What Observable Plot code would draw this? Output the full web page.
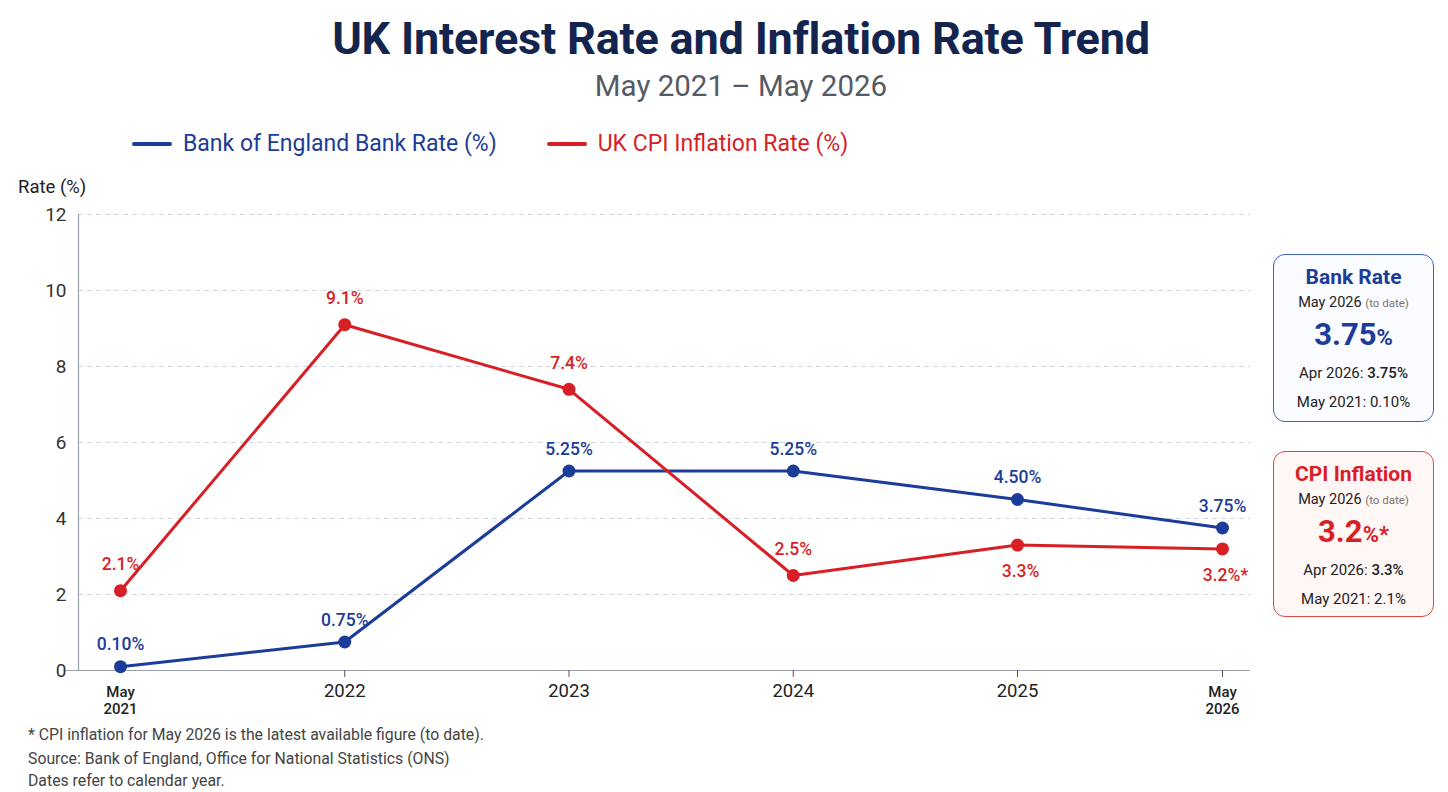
<!DOCTYPE html>
<html>
<head>
<meta charset="utf-8">
<script src="https://cdn.jsdelivr.net/npm/d3@7"></script>
<script src="https://cdn.jsdelivr.net/npm/@observablehq/plot@0.6"></script>
<style>
  html, body { margin: 0; padding: 0; background: #fff; }
  body { width: 1448px; height: 792px; position: relative; overflow: hidden; font-family: Roboto, "Liberation Sans", sans-serif; }
  .title { position: absolute; left: 0; width: 1482px; top: 12px; text-align: center; font-size: 45px; font-weight: 700; color: #13254f; letter-spacing: -0.2px; }
  .subtitle { position: absolute; left: 0; width: 1482px; top: 69px; text-align: center; font-size: 29.5px; color: #555b66; }
  .legend { position: absolute; top: 130px; left: 132px; display: flex; align-items: center; font-size: 23px; }
  .legend .sw { display: inline-block; width: 40px; height: 4px; border-radius: 2px; margin-right: 11px; }
  .legend .item { display: flex; align-items: center; margin-right: 50px; }
  .ylab { position: absolute; left: 18px; top: 176px; font-size: 18.5px; color: #222; }
  #chart { position: absolute; left: 0; top: 160px; }
  .box { position: absolute; left: 1273px; width: 161px; border-radius: 12px; text-align: center; box-sizing: border-box; }
  .box .h { font-size: 21px; font-weight: 700; margin-top: 9px; line-height: 26px; }
  .box .d { font-size: 14.5px; color: #222; margin-top: 3px; line-height: 20px; }
  .box .d small { font-size: 11.5px; color: #777; }
  .box .big { font-size: 31px; font-weight: 700; margin-top: 2px; line-height: 40px; }
  .box .big span { font-size: 22px; }
  .box .s { font-size: 15px; color: #222; margin-top: 4px; line-height: 22px; }
  .box .s2 { font-size: 15px; color: #222; margin-top: 7px; line-height: 22px; }
  .foot { position: absolute; left: 28px; font-size: 15.8px; color: #444; }
</style>
</head>
<body>
<div class="title">UK Interest Rate and Inflation Rate Trend</div>
<div class="subtitle">May 2021 – May 2026</div>
<div class="legend" id="legend"></div>
<div class="ylab">Rate (%)</div>
<div id="chart"></div>
<div class="box" id="bankBox" style="top:254px; height:168px; border:1.5px solid #3f63c0; background:#fbfcff;"></div>
<div class="box" id="cpiBox" style="top:451px; height:166px; border:1.5px solid #e04848; background:#fff6f6;"></div>
<div class="foot" style="top:725px;">* CPI inflation for May 2026 is the latest available figure (to date).</div>
<div class="foot" style="top:749px;">Source: Bank of England, Office for National Statistics (ONS)</div>
<div class="foot" style="top:771px;">Dates refer to calendar year.</div>
<script>
// ---- Data ----
const years = [2021, 2022, 2023, 2024, 2025, 2026];
const periodLabels = ["May\n2021", "2022", "2023", "2024", "2025", "May\n2026"];
const bankRate = [0.10, 0.75, 5.25, 5.25, 4.50, 3.75];
const cpiRate = [2.1, 9.1, 7.4, 2.5, 3.3, 3.2];
const bankLabels = ["0.10%", "0.75%", "5.25%", "5.25%", "4.50%", "3.75%"];
const cpiLabels = ["2.1%", "9.1%", "7.4%", "2.5%", "3.3%", "3.2%*"];
const cpiLabelBelow = [false, false, false, false, true, true];
const yTicks = [0, 2, 4, 6, 8, 10, 12];
const seriesNames = ["Bank of England Bank Rate (%)", "UK CPI Inflation Rate (%)"];
const colors = ["#1c3c99", "#d81f26"];

const bankBox = { title: "Bank Rate", date: "May 2026", value: "3.75", suffix: "%", prev: ["Apr 2026: ", "3.75%"], start: ["May 2021: ", "0.10%"] };
const cpiBox = { title: "CPI Inflation", date: "May 2026", value: "3.2", suffix: "%*", prev: ["Apr 2026: ", "3.3%"], start: ["May 2021: ", "2.1%"] };

const bank = years.map((x, i) => ({ x, y: bankRate[i], label: bankLabels[i] }));
const cpi = years.map((x, i) => ({ x, y: cpiRate[i], label: cpiLabels[i], below: cpiLabelBelow[i] }));

// ---- Legend ----
const legend = document.getElementById("legend");
seriesNames.forEach((n, i) => {
  const it = document.createElement("div");
  it.className = "item";
  it.innerHTML = `<span class="sw" style="background:${colors[i]}"></span><span style="color:${colors[i]}">${n}</span>`;
  legend.appendChild(it);
});

// ---- Boxes ----
function fillBox(el, b, c) {
  el.innerHTML = `<div class="h" style="color:${c}">${b.title}</div>
  <div class="d">${b.date} <small>(to date)</small></div>
  <div class="big" style="color:${c}">${b.value}<span>${b.suffix}</span></div>
  <div class="s">${b.prev[0]}<b style="font-weight:500">${b.prev[1]}</b></div>
  <div class="s2">${b.start[0]}<span>${b.start[1]}</span></div>`;
}
fillBox(document.getElementById("bankBox"), bankBox, colors[0]);
fillBox(document.getElementById("cpiBox"), cpiBox, colors[1]);

// ---- Chart ----
const chart = Plot.plot({
  width: 1260,
  height: 560,
  marginTop: 54,
  marginBottom: 50,
  marginLeft: 78,
  marginRight: 10,
  style: { fontFamily: "Roboto, sans-serif", background: "transparent", overflow: "visible" },
  // piecewise linear: the final point (May 2026) sits a little closer than a full year step
  x: { type: "linear", domain: [2021, 2025, 2026], range: [120, 1017, 1222], axis: null },
  y: { domain: [0, 12], axis: null },
  marks: [
    Plot.ruleY(yTicks.filter(d => d > 0), { stroke: "#cfd8e6", strokeDasharray: "5,4", strokeWidth: 1 }),
    Plot.ruleY([0], { stroke: "#9aa0aa", strokeWidth: 1.2, insetLeft: -13 }),
    Plot.axisY({ ticks: yTicks, tickSize: 0, tickPadding: 12, fontSize: 19, color: "#333", label: null }),
    Plot.ruleX([2021], { y1: 0, y2: 12, stroke: "#9aa0aa", strokeWidth: 1.2, dx: -42 }),
    Plot.axisX({ ticks: years.slice(1, 5), tickFormat: d => periodLabels[years.indexOf(d)], tickSize: 7, tickPadding: 6, fontSize: 18.5, color: "#222", label: null, stroke: "#555" }),
    Plot.axisX({ ticks: [2026], tickFormat: () => "", tickSize: 7, label: null, stroke: "#555" }),
    Plot.axisX({ ticks: [2021, 2026], tickFormat: d => periodLabels[years.indexOf(d)], tickSize: 0, tickPadding: 14, fontSize: 15, fontWeight: 500, color: "#222", label: null, lineHeight: 1.15 }),
    Plot.line(bank, { x: "x", y: "y", stroke: colors[0], strokeWidth: 3 }),
    Plot.line(cpi, { x: "x", y: "y", stroke: colors[1], strokeWidth: 3 }),
    Plot.dot(bank, { x: "x", y: "y", r: 6.5, fill: colors[0] }),
    Plot.dot(cpi, { x: "x", y: "y", r: 6.5, fill: colors[1] }),
    Plot.text(bank, { x: "x", y: "y", text: "label", dy: -22, fill: colors[0], fontSize: 17.5, fontWeight: 500 }),
    Plot.text(cpi.filter(d => !d.below), { x: "x", y: "y", text: "label", dy: -26, fill: colors[1], fontSize: 17.5, fontWeight: 500 }),
    Plot.text(cpi.filter(d => d.below), { x: "x", y: "y", text: "label", dy: 26, dx: 3, fill: colors[1], fontSize: 17.5, fontWeight: 500 })
  ]
});
document.getElementById("chart").appendChild(chart);
</script>
</body>
</html>
